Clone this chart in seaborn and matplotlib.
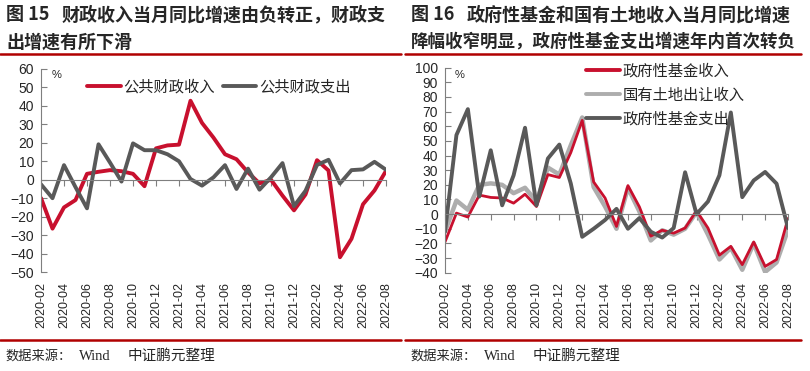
import numpy as np
import pandas as pd
import seaborn as sns
import matplotlib.pyplot as plt
from matplotlib.lines import Line2D

sns.set_style("white")
plt.rcParams['font.family'] = ['Noto Sans CJK SC', 'DejaVu Sans']
plt.rcParams['axes.unicode_minus'] = True

# monthly data 2020-02 .. 2022-08 (%, yoy)
months = ['2020-02', '2020-03', '2020-04', '2020-05', '2020-06', '2020-07', '2020-08',
          '2020-09', '2020-10', '2020-11', '2020-12', '2021-01', '2021-02', '2021-03',
          '2021-04', '2021-05', '2021-06', '2021-07', '2021-08', '2021-09', '2021-10',
          '2021-11', '2021-12', '2022-01', '2022-02', '2022-03', '2022-04', '2022-05',
          '2022-06', '2022-07', '2022-08']
tick_labels = ['2020-02', '2020-04', '2020-06', '2020-08', '2020-10', '2020-12', '2021-02',
               '2021-04', '2021-06', '2021-08', '2021-10', '2021-12', '2022-02', '2022-04',
               '2022-06', '2022-08']

pub_rev = [-9.9, -26.5, -15, -11, 3.2, 4.3, 5.2, 4.6, 3.2, -3.5, 17, 18.6, 19, 42.8, 30.8,
           22.8, 13.8, 11.1, 4, -2, 0, -8.6, -16.6, -8, 10.6, 5, -42, -32, -13.3, -5.8, 4.8]
pub_exp = [-2.5, -10, 7.9, -4, -15.5, 19.2, 9.3, -1, 19.7, 16, 16, 13.8, 10, 0.4, -3.2,
           1.3, 7.9, -5, 6, -5.4, 1.3, 9, -14.3, -6, 8, 10.8, -2, 5.2, 5.6, 9.7, 5.4]

fund_rev = [-19, 0.7, -2, 13, 11.4, 11, 7.5, 13.6, 5.2, 27, 25, 42, 64, 22, 11, -8.4, 19.5,
            5, -15, -11, -13, -9.5, 2.3, -9.5, -28, -22, -34.5, -19, -35.7, -31, -3]
land_rev = [-12, 9.3, 3, 20, 21, 20, 14.3, 18, 8.6, 31.8, 27, 47, 66, 18.5, 5.2, -10, 18,
            1.8, -18, -11, -14, -10, 1.4, -14, -31, -23, -38, -20, -39.5, -33, -10.7]
fund_exp = [-12, 54, 71.7, 12, 43.6, 6, 26.5, 59, 6, 38, 47.5, 21, -15.5, -10, -4, 3.6, -10,
            -2.7, -12, -16, -9.5, 28.6, 0, 8.6, 26.5, 69.4, 11.6, 23, 28.8, 20.8, -9.5]

RED = '#C8102E'
DARK = '#595959'
LIGHT = '#ADADAD'
LINE_RED = '#B00000'

W, H = 810, 371
fig = plt.figure(figsize=(W / 100, H / 100), dpi=100)


def px(x, y):
    return x / W, 1 - y / H


def box(x0, y0, x1, y1):
    return [x0 / W, 1 - y1 / H, (x1 - x0) / W, (y1 - y0) / H]


idx = np.arange(len(months))
tick_pos = idx[::2]


def style_axis(ax, ylo, yhi):
    ax.set_xlim(0, len(months) - 1)
    ax.set_ylim(ylo, yhi)
    ax.set_yticks(np.arange(ylo, yhi + 1, 10))
    for s in ['top', 'right']:
        ax.spines[s].set_visible(False)
    ax.spines['left'].set_color('#7f7f7f')
    ax.spines['bottom'].set_position(('data', 0))
    ax.spines['bottom'].set_color('#7f7f7f')
    ax.set_xticks(tick_pos)
    ax.tick_params(axis='x', direction='out', length=4, color='#7f7f7f', labelbottom=False, bottom=True)
    ax.tick_params(axis='y', direction='in', length=4, color='#7f7f7f', left=True, pad=5,
                   labelsize=10)
    for t in ax.get_yticklabels():
        t.set_fontfamily('Liberation Sans')
    ax.set_xlabel('')
    ax.set_ylabel('')
    sec = ax.secondary_xaxis(0)
    sec.set_xticks(tick_pos, tick_labels, rotation=90, fontsize=9, fontfamily='Liberation Sans')
    sec.tick_params(length=0, pad=7)
    sec.spines['bottom'].set_visible(False)


# left chart
ax1 = fig.add_axes(box(41, 69, 386, 272))
sns.lineplot(x=idx, y=pub_rev, ax=ax1, color=RED, lw=2.8, solid_joinstyle='round')
sns.lineplot(x=idx, y=pub_exp, ax=ax1, color=DARK, lw=2.8, solid_joinstyle='round')
style_axis(ax1, -50, 60)
fig.text(*px(52, 75), '%', fontsize=8, va='center', ha='left', family='Liberation Sans')
h1 = [Line2D([], [], color=RED, lw=2.8), Line2D([], [], color=DARK, lw=2.8)]
fig.legend(h1, ['公共财政收入', '公共财政支出'], loc='center left', bbox_to_anchor=px(87, 87),
           ncol=2, frameon=False, fontsize=11, handlelength=2.2, handletextpad=0.2,
           columnspacing=0.5, borderpad=0, borderaxespad=0)

# right chart
ax2 = fig.add_axes(box(445, 67.7, 788, 272.7))
sns.lineplot(x=idx, y=land_rev, ax=ax2, color=LIGHT, lw=3.2, solid_joinstyle='round')
sns.lineplot(x=idx, y=fund_rev, ax=ax2, color=RED, lw=2.0, solid_joinstyle='round')
sns.lineplot(x=idx, y=fund_exp, ax=ax2, color=DARK, lw=2.8, solid_joinstyle='round')
style_axis(ax2, -40, 100)
fig.text(*px(455, 75), '%', fontsize=8, va='center', ha='left', family='Liberation Sans')
h2 = [Line2D([], [], color=RED, lw=2.8), Line2D([], [], color=LIGHT, lw=2.8),
      Line2D([], [], color=DARK, lw=2.8)]
fig.legend(h2, ['政府性基金收入', '国有土地出让收入', '政府性基金支出'], loc='center left',
           bbox_to_anchor=px(586, 95), frameon=False, fontsize=11, handlelength=2.2,
           handletextpad=0.2, labelspacing=0.45, borderpad=0, borderaxespad=0)

# titles
tkw = dict(fontsize=13, fontweight='bold', va='center', ha='left')
fig.text(*px(6, 15), '图 15', **tkw)
fig.text(*px(62, 15), '财政收入当月同比增速由负转正，财政支', **tkw)
fig.text(*px(6, 42), '出增速有所下滑', **tkw)
fig.text(*px(411, 15), '图 16', **tkw)
fig.text(*px(467, 15), '政府性基金和国有土地收入当月同比增速', **tkw)
fig.text(*px(411, 42), '降幅收窄明显，政府性基金支出增速年内首次转负',
         fontsize=12.6, fontweight='bold', va='center', ha='left')

for x0, x1 in [(0, 401), (405, 801)]:
    for y in [54, 340]:
        fig.add_artist(Line2D([x0 / W, x1 / W], [1 - y / H, 1 - y / H], color=LINE_RED, lw=1.8))

# sources
for x0 in [5, 410]:
    fig.text(*px(x0, 356), '数据来源：', fontsize=9.5, va='center', ha='left')
    fig.text(*px(x0 + 74, 356), 'Wind', fontsize=10.5, va='center', ha='left', family='Liberation Serif')
    fig.text(*px(x0 + 123, 356), '中证鹏元整理', fontsize=10.5, va='center', ha='left')

fig.savefig('out.png', dpi=100)
